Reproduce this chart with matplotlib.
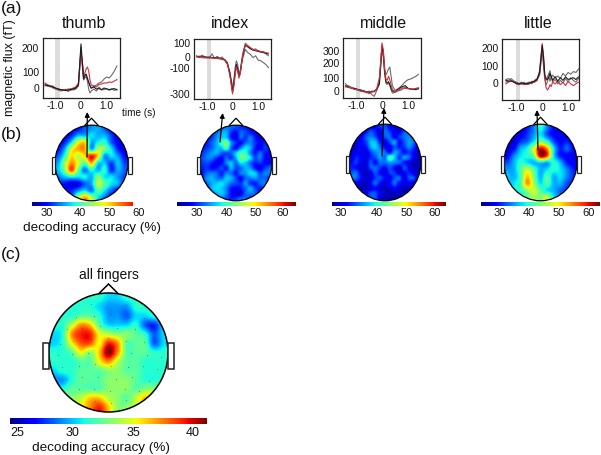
import numpy as np
import matplotlib
matplotlib.use("Agg")
import matplotlib.pyplot as plt
from matplotlib.patches import Circle, Ellipse, Polygon, Rectangle

plt.rcParams["font.family"] = ["Liberation Sans", "DejaVu Sans"]

WIDTH, HEIGHT = 601, 455

# ===========================
# DATA
# ===========================

TIMES = [-1.4, -1.3, -1.2, -1.1, -1.0, -0.9, -0.8, -0.7, -0.6, -0.5, -0.4, -0.3, -0.2, -0.1,
         0.0, 0.05, 0.1, 0.15, 0.2, 0.25, 0.3, 0.35, 0.4,
         0.5, 0.6, 0.7, 0.8, 0.9, 1.0, 1.1, 1.2, 1.3, 1.4]

thumb_black = [15, 12, 10, 5, 0, -5, -8, -10, -12, -10, -8, -5, 0, 15,
               220, 130, 45, 60, 70, 50, 30, 10, 0,
               5, -5, -3, -8, 0, -5, -8, -5, -3, -10]
thumb_gray1 = [20, 8, 12, 0, -2, -10, -12, -8, -14, -8, -12, -2, 5, 20,
               205, 110, 40, 50, 55, 40, 25, 15, -2,
               10, 15, 25, 30, 45, 55, 50, 65, 85, 110]
thumb_gray2 = [10, 18, 5, 8, -6, -2, -15, -12, -6, -18, -5, -10, -5, 10,
               190, 120, 55, 70, 60, 35, -5, -25, -15,
               -5, -15, 5, -10, -8, -2, -12, -5, -12, -6]
thumb_red = [25, 15, 8, 10, 0, -4, -8, -10, -10, -5, -5, 0, 5, 25,
             170, 140, 70, 75, 95, 105, 85, 40, 15,
             10, 5, 18, 20, 25, 25, 30, 28, 35, 42]

index_black = [5, 0, 5, 0, -5, 0, -5, -8, -5, -10, -15, -20, -45, -130,
               -280, -220, -130, -60, -90, -150, -130, -60, 10,
               95, 80, 65, 55, 50, 45, 40, 35, 30, 25]
index_gray1 = [10, -5, 15, 5, 0, -5, 25, -10, 5, -10, 0, -30, -60, -120,
               -240, -190, -90, -30, -60, -130, -110, -50, -10,
               60, 35, 20, -5, 10, -25, -30, -45, -60, -85]
index_gray2 = [0, 8, -5, -8, 0, -10, -5, -10, -12, -15, -20, -25, -50, -140,
               -270, -200, -120, -80, -100, -170, -120, -40, 30,
               110, 90, 70, 60, 65, 50, 40, 45, 25, 10]
index_red = [5, -2, 2, -3, -8, -6, -8, -10, -8, -12, -15, -22, -55, -150,
             -295, -240, -150, -80, -110, -160, -140, -60, 15,
             100, 90, 75, 60, 55, 50, 45, 40, 35, 30]

middle_black = [40, 30, 25, 20, 15, 10, 5, 0, -5, -10, -5, 0, 15, 60,
                340, 280, 150, 70, 60, 70, 50, 20, 0,
                -5, 10, 25, 35, 40, 20, 15, 15, 10, 20]
middle_gray1 = [55, 35, 20, 25, 10, 5, -5, 5, -15, 0, -25, -40, 5, 80,
                330, 300, 170, 120, 140, 165, 180, 110, 40,
                5, 15, 30, 50, 70, 85, 90, 100, 110, 125]
middle_gray2 = [30, 40, 30, 15, 20, 8, 10, -8, -5, -20, 0, -5, 10, 50,
                300, 260, 130, 60, 50, 60, 40, 10, -15,
                -10, 0, 5, 15, 30, 20, 15, 10, 18, 15]
middle_red = [35, 25, 28, 15, 12, 8, 2, -3, -8, -15, -8, -5, 20, 100,
              360, 310, 170, 90, 80, 110, 85, 45, 10,
              -5, 5, 15, 25, 20, 18, 15, 15, 20, 25]

little_black = [15, 10, 12, 5, 0, -5, 0, -3, -5, 0, 5, 10, 20, 60,
                215, 150, 45, 25, 20, 30, 55, 35, 15,
                35, 10, 30, 15, 35, 20, 25, 30, 20, 35]
little_gray1 = [20, 25, 15, 10, -5, -8, 5, -10, 0, 5, -5, 15, 25, 50,
                190, 130, 30, 15, 35, 50, 70, 30, 45,
                30, 40, 25, 55, 40, 60, 50, 65, 60, 80]
little_gray2 = [5, 15, 25, 12, 5, -2, -5, 5, -8, -5, 10, 5, 15, 45,
                180, 100, 20, -10, 5, 40, 10, 40, 5,
                20, -5, 15, 0, 25, 5, 30, 15, 5, 25]
little_red = [-5, 5, 10, 8, -5, -10, -5, -8, -8, -5, 0, 5, 15, 70,
              225, 160, 40, -25, -40, -30, -10, -20, 5,
              -5, 10, -10, 5, -15, 10, -5, -15, -5, 5]

# decoding accuracy over the head, rows run front to back, columns left to right
thumb_map = [
    [29, 29, 29, 30, 33, 35, 36, 33, 29, 28, 28],
    [29, 29, 31, 36, 36, 38, 36, 36, 32, 28, 27],
    [29, 31, 38, 48, 50, 36, 39, 40, 33, 29, 28],
    [30, 36, 48, 52, 52, 36, 46, 43, 38, 31, 28],
    [33, 40, 50, 46, 50, 58, 50, 35, 38, 35, 30],
    [36, 45, 53, 48, 42, 52, 38, 37, 32, 37, 32],
    [37, 44, 56, 43, 34, 40, 36, 40, 31, 36, 33],
    [34, 37, 39, 38, 39, 36, 44, 38, 38, 35, 32],
    [31, 30, 28, 29, 33, 36, 46, 42, 38, 36, 31],
    [30, 30, 31, 35, 38, 34, 42, 38, 33, 30, 29],
    [30, 30, 33, 45, 52, 46, 38, 34, 30, 29, 29],
]
index_map = [
    [30, 30, 30, 31, 32, 34, 33, 32, 31, 30, 29, 28, 28, 28, 28],
    [30, 30, 31, 33, 36, 36, 31, 29, 33, 32, 30, 28, 26, 28, 28],
    [30, 30, 31, 35, 37, 37, 30, 28, 33, 31, 34, 30, 27, 28, 29],
    [30, 30, 33, 36, 41, 44, 35, 31, 29, 33, 34, 31, 29, 30, 29],
    [30, 31, 33, 36, 37, 42, 33, 29, 34, 38, 36, 30, 28, 31, 30],
    [31, 33, 35, 36, 33, 32, 33, 37, 41, 40, 34, 30, 33, 30, 29],
    [32, 34, 34, 31, 29, 33, 31, 36, 43, 42, 38, 32, 34, 29, 28],
    [31, 32, 30, 28, 29, 34, 37, 33, 38, 37, 33, 30, 31, 29, 29],
    [30, 31, 29, 30, 32, 30, 36, 32, 33, 36, 35, 30, 28, 31, 33],
    [30, 33, 34, 33, 30, 34, 33, 30, 34, 35, 38, 37, 32, 34, 34],
    [31, 35, 36, 34, 33, 37, 36, 32, 29, 33, 34, 35, 33, 33, 31],
    [29, 33, 36, 37, 38, 36, 33, 32, 31, 35, 31, 30, 33, 34, 30],
    [28, 30, 36, 38, 37, 34, 30, 29, 30, 33, 36, 32, 30, 31, 29],
    [28, 29, 33, 36, 37, 34, 29, 27, 28, 33, 34, 33, 30, 29, 28],
    [28, 28, 31, 33, 34, 32, 30, 31, 33, 33, 31, 30, 29, 28, 28],
]
middle_map = [
    [27, 27, 27, 28, 29, 30, 32, 33, 30, 28, 28, 28, 27, 27, 27],
    [27, 27, 28, 30, 33, 31, 28, 34, 32, 29, 29, 33, 33, 28, 27],
    [27, 28, 29, 33, 35, 33, 29, 33, 34, 29, 32, 34, 35, 32, 27],
    [27, 28, 30, 32, 37, 37, 31, 29, 33, 36, 30, 33, 36, 34, 28],
    [27, 28, 30, 30, 36, 38, 34, 30, 29, 33, 31, 32, 35, 32, 28],
    [28, 29, 29, 28, 32, 35, 36, 34, 30, 36, 34, 30, 32, 30, 27],
    [28, 31, 30, 29, 31, 33, 36, 34, 42, 38, 32, 36, 34, 29, 27],
    [30, 32, 29, 28, 33, 30, 34, 34, 36, 35, 34, 31, 29, 27, 27],
    [31, 30, 28, 28, 33, 34, 32, 30, 33, 30, 28, 33, 30, 27, 27],
    [33, 34, 29, 27, 29, 33, 30, 28, 32, 32, 28, 30, 31, 28, 27],
    [35, 34, 30, 28, 28, 32, 33, 30, 29, 33, 34, 28, 33, 33, 27],
    [30, 29, 28, 27, 30, 34, 30, 28, 30, 34, 30, 29, 29, 28, 27],
    [27, 27, 27, 27, 28, 30, 28, 27, 28, 30, 28, 27, 27, 27, 27],
    [27, 27, 27, 29, 33, 33, 29, 27, 27, 27, 27, 27, 27, 27, 27],
    [27, 27, 27, 29, 32, 33, 28, 27, 27, 27, 27, 27, 27, 27, 27],
]
little_map = [
    [27, 27, 27, 30, 34, 40, 34, 29, 27, 27, 27],
    [27, 27, 28, 31, 35, 38, 32, 29, 28, 27, 27],
    [27, 27, 31, 33, 38, 44, 40, 32, 29, 30, 27],
    [27, 29, 36, 39, 48, 60, 54, 38, 30, 33, 29],
    [28, 34, 38, 40, 44, 63, 58, 38, 30, 29, 28],
    [32, 36, 40, 38, 36, 38, 36, 40, 36, 30, 28],
    [35, 36, 42, 48, 42, 36, 38, 40, 38, 34, 30],
    [37, 36, 41, 52, 44, 36, 42, 36, 38, 34, 31],
    [36, 38, 42, 54, 46, 38, 42, 36, 36, 32, 30],
    [34, 38, 40, 45, 48, 42, 38, 36, 33, 31, 29],
    [32, 34, 38, 42, 46, 44, 48, 38, 34, 30, 29],
]
all_map = [
    [31, 31, 31, 31, 31, 31, 30, 30, 31, 31, 31, 31, 31],
    [31, 31, 31, 31, 31, 30, 29, 29, 29, 31, 31, 31, 31],
    [31, 31, 31, 32, 32, 31, 29, 29, 28, 30, 30, 31, 31],
    [31, 31, 34, 37, 36, 32, 30, 30, 30, 31, 28, 27, 30],
    [30, 31, 37, 39, 39, 35, 34, 33, 33, 32, 31, 28, 30],
    [30, 31, 35, 38, 38, 35, 39, 37, 32, 32, 32, 28, 30],
    [31, 31, 32, 35, 33, 36, 41, 37, 32, 32, 32, 31, 31],
    [31, 31, 31, 32, 32, 35, 37, 34, 32, 32, 31, 31, 31],
    [30, 31, 31, 32, 32, 32, 33, 33, 32, 32, 31, 31, 31],
    [29, 29, 31, 32, 32, 32, 33, 33, 33, 32, 31, 31, 31],
    [31, 31, 32, 32, 32, 32, 33, 33, 33, 32, 33, 33, 32],
    [33, 33, 33, 34, 36, 36, 34, 33, 32, 34, 36, 35, 33],
    [33, 33, 34, 35, 37, 39, 36, 33, 33, 34, 34, 33, 33],
]

sensor_x = [-0.3, 0.0, 0.3, -0.55, -0.25, 0.05, 0.35, 0.6, -0.7, -0.45, -0.15, 0.15, 0.45, 0.72,
            -0.82, -0.6, -0.3, 0.0, 0.3, 0.6, 0.84, -0.85, -0.62, -0.35, 0.1, 0.38, 0.64, 0.88,
            -0.78, -0.5, -0.22, 0.05, 0.32, 0.58, 0.82, -0.72, -0.45, -0.18, 0.12, 0.4, 0.68,
            -0.5, -0.25, 0.02, 0.28, 0.52, -0.22, 0.05, 0.3]
sensor_y = [0.82, 0.86, 0.8, 0.6, 0.62, 0.64, 0.6, 0.58, 0.4, 0.42, 0.45, 0.42, 0.4, 0.36,
            0.15, 0.2, 0.22, 0.25, 0.2, 0.18, 0.12, -0.05, -0.02, 0.0, -0.02, 0.0, -0.05, -0.08,
            -0.25, -0.22, -0.2, -0.22, -0.25, -0.22, -0.28, -0.45, -0.42, -0.42, -0.45, -0.42, -0.48,
            -0.62, -0.62, -0.65, -0.62, -0.65, -0.82, -0.85, -0.8]

# ===========================
# LAYOUT (in reference pixels)
# ===========================

RED = "#d0303c"
GRAY = "#6a6a6a"
BLACK = "#1c1c1c"

TRACE_PANELS = [
    dict(title="thumb", title_x=84, box=(42.5, 38, 119.5, 98), xlim=(-1.5, 1.5), ylim=(-50, 250),
         band=(-1.0, -0.8), yticks=[0, 81, 201], ylabels=["0", "100", "200"],
         lines=[(thumb_gray2, GRAY), (thumb_gray1, GRAY), (thumb_red, RED), (thumb_black, BLACK)]),
    dict(title="index", title_x=230, box=(194, 39, 271, 99), xlim=(-1.5, 1.5), ylim=(-336, 144),
         band=(-1.0, -0.85), yticks=[-296, -88, 0, 112], ylabels=["-300", "-100", "0", "100"],
         lines=[(index_gray1, GRAY), (index_gray2, GRAY), (index_black, BLACK), (index_red, RED)]),
    dict(title="middle", title_x=383, box=(343, 38, 421, 98), xlim=(-1.5, 1.5), ylim=(-52, 397),
         band=(-1.0, -0.85), yticks=[0, 98, 210, 300], ylabels=["0", "100", "200", "300"],
         lines=[(middle_gray1, GRAY), (middle_gray2, GRAY), (middle_black, BLACK), (middle_red, RED)]),
    dict(title="little", title_x=538, box=(502, 39, 579, 100), xlim=(-1.55, 1.42), ylim=(-97, 251),
         band=(-1.0, -0.85), yticks=[0, 97, 200], ylabels=["0", "100", "200"],
         lines=[(little_gray1, GRAY), (little_gray2, GRAY), (little_red, RED), (little_black, BLACK)]),
]

HEAD_PANELS = [
    dict(values=thumb_map, cx=91.5, cy=163, rx=36.5, ry=37.8, vmin=25, vmax=62,
         bar=(32, 133, 202, 206, 25.1, 58), ticks=[30, 40, 50, 60],
         tick_px=[47, 80, 110, 139], arrow=(87, 157, 87.3, 112)),
    dict(values=index_map, cx=236, cy=163, rx=36, ry=37.8, vmin=24, vmax=64,
         bar=(177, 296, 202, 206, 24, 64), ticks=[30, 40, 50, 60],
         tick_px=[197, 227, 256, 283], arrow=(220, 142, 222.7, 113)),
    dict(values=middle_map, cx=385, cy=162.5, rx=36, ry=38.3, vmin=25, vmax=64,
         bar=(332, 446, 202, 206, 25, 64), ticks=[30, 40, 50, 60],
         tick_px=[341, 377, 407, 435], arrow=(382, 156, 384, 108)),
    dict(values=little_map, cx=540.5, cy=162.5, rx=36.5, ry=38.3, vmin=24, vmax=64,
         bar=(481, 600, 202, 206, 24, 64), ticks=[30, 40, 50, 60],
         tick_px=[500, 529, 559, 589], arrow=(538, 150, 537, 110)),
]

# ===========================
# HELPERS
# ===========================


def px_axes(fig, x0, y0, x1, y1):
    """Adds an axes given its box in pixels measured from the top left."""
    return fig.add_axes([x0 / WIDTH, 1 - y1 / HEIGHT, (x1 - x0) / WIDTH, (y1 - y0) / HEIGHT])


def draw_traces(fig, panel):
    ax = px_axes(fig, *panel["box"])
    ax.axvspan(*panel["band"], color="#dcdcdc", lw=0, zorder=0)
    for values, col in panel["lines"]:
        ax.plot(TIMES, values, color=col, lw=0.8)
    ax.set_xlim(*panel["xlim"])
    ax.set_ylim(*panel["ylim"])
    ax.set_xticks([-1, 0, 1])
    ax.set_xticklabels(["-1.0", "0", "1.0"])
    ax.set_yticks(panel["yticks"])
    ax.set_yticklabels(panel["ylabels"])
    ax.tick_params(length=0, labelsize=7.4, pad=2.5, colors="#111111")
    for spine in ax.spines.values():
        spine.set_linewidth(0.9)
        spine.set_color("#222222")


def draw_head_map(fig, values, cx, cy, rx, ry, vmin, vmax):
    ax = px_axes(fig, cx - rx, cy - ry, cx + rx, cy + ry)
    # catrom goes through the cell values, bicubic washed the blotches out
    im = ax.imshow(values, extent=(-1, 1, -1, 1), cmap="jet", vmin=vmin, vmax=vmax,
                   interpolation="catrom", aspect="auto")
    im.set_clip_path(Circle((0, 0), 1, transform=ax.transData))
    ax.set_xlim(-1, 1)
    ax.set_ylim(-1, 1)
    ax.axis("off")
    return ax


def draw_head_outline(over, cx, cy, rx, ry, ear_w, ear_h, nose_w, nose_h, lw):
    over.add_patch(Ellipse((cx, cy), 2 * rx, 2 * ry, fill=False, ec="black", lw=lw))
    over.add_patch(Rectangle((cx - rx - ear_w, cy - ear_h * 0.38), ear_w, ear_h, fc="white", ec="#222222", lw=lw, zorder=1))
    over.add_patch(Rectangle((cx + rx, cy - ear_h * 0.38), ear_w, ear_h, fc="white", ec="#222222", lw=lw, zorder=1))
    over.add_patch(Polygon([(cx - nose_w, cy - ry + 0.5), (cx, cy - ry - nose_h), (cx + nose_w, cy - ry + 0.5)],
                           closed=False, fill=False, ec="black", lw=lw))


def draw_colourbar(fig, over, bar, vmin, vmax, ticks, tick_px, label_y, size):
    x0, x1, y0, y1, lo, hi = bar
    ax = px_axes(fig, x0, y0, x1, y1)
    gradient = np.linspace(lo, hi, 256)[None, :]
    ax.imshow(gradient, extent=(lo, hi, 0, 1), cmap="jet", vmin=vmin, vmax=vmax, aspect="auto")
    ax.axis("off")
    for tick, px in zip(ticks, tick_px):
        over.text(px, label_y, str(tick), ha="center", va="center", fontsize=size, color="#111111")


# ===========================
# MAIN SCRIPT
# ===========================

fig = plt.figure(figsize=(WIDTH / 100, HEIGHT / 100), dpi=100)

over = fig.add_axes([0, 0, 1, 1], zorder=10)
over.set_xlim(0, WIDTH)
over.set_ylim(HEIGHT, 0)
over.axis("off")

for panel in TRACE_PANELS:
    draw_traces(fig, panel)
    over.text(panel["title_x"], 23.5, panel["title"], ha="center", va="center", fontsize=11.5, color="#111111")

over.text(1, 9, "(a)", ha="left", va="center", fontsize=12.5, color="#111111")
over.text(1, 134, "(b)", ha="left", va="center", fontsize=12.5, color="#111111")
over.text(1, 255, "(c)", ha="left", va="center", fontsize=12.5, color="#111111")
over.text(10, 68, "magnetic flux (fT)", rotation=90, ha="center", va="center", fontsize=9, color="#111111")
over.text(139, 113, "time (s)", ha="center", va="center", fontsize=7.2, color="#111111")

for head in HEAD_PANELS:
    draw_head_map(fig, head["values"], head["cx"], head["cy"], head["rx"], head["ry"], head["vmin"], head["vmax"])
    draw_head_outline(over, head["cx"], head["cy"], head["rx"], head["ry"], 3.5, 17, 7, 7, 0.9)
    draw_colourbar(fig, over, head["bar"], head["vmin"], head["vmax"], head["ticks"], head["tick_px"], 213, 8)
    x0, y0, x1, y1 = head["arrow"]
    over.annotate("", xy=(x1, y1), xytext=(x0, y0),
                  arrowprops=dict(arrowstyle="-|>", color="black", lw=0.9, mutation_scale=7, shrinkA=0, shrinkB=0))

over.text(92, 228, "decoding accuracy (%)", ha="center", va="center", fontsize=9.7, color="#111111")

# all fingers
ALL_CX, ALL_CY, ALL_R = 108.5, 352.5, 59.5
all_ax = draw_head_map(fig, all_map, ALL_CX, ALL_CY, ALL_R, ALL_R, 24.4, 41)
all_ax.scatter(sensor_x, sensor_y, s=0.6, color="#333333", alpha=0.55, linewidths=0)
draw_head_outline(over, ALL_CX, ALL_CY, ALL_R, ALL_R, 6, 26, 9.5, 9, 1.1)
draw_colourbar(fig, over, (10, 207, 418, 424, 24.4, 41), 24.4, 41, [25, 30, 35, 40], [17, 73, 133, 193], 433, 9)
over.text(108.5, 275, "all fingers", ha="center", va="center", fontsize=10, color="#111111")
over.text(101, 448, "decoding accuracy (%)", ha="center", va="center", fontsize=9.7, color="#111111")

fig.savefig("out.png", dpi=100)
